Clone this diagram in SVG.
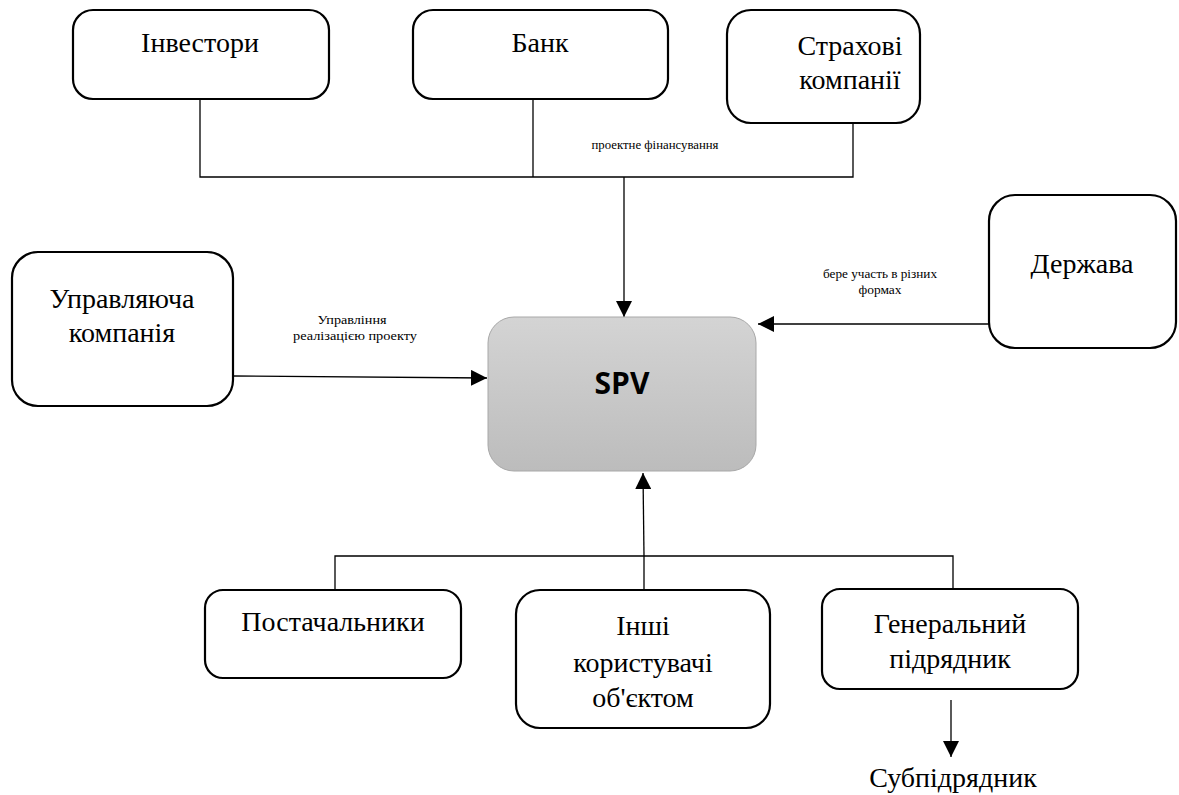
<svg xmlns="http://www.w3.org/2000/svg" width="1179" height="795" viewBox="0 0 1179 795" font-family="Liberation Serif">
<defs>
<linearGradient id="g" x1="0" y1="0" x2="0" y2="1">
<stop offset="0" stop-color="#d4d4d4"/>
<stop offset="1" stop-color="#bcbcbc"/>
</linearGradient>
<marker id="ah" markerUnits="userSpaceOnUse" markerWidth="16" markerHeight="16" viewBox="0 0 16 16" refX="16" refY="8" orient="auto">
<path d="M0,0 L16,8 L0,16 Z" fill="#000"/>
</marker>
</defs>
<style>
.box{fill:#fff;stroke:#000;stroke-width:2.2}
.t{font-size:28px;fill:#000;text-anchor:middle}
.s{font-size:12px;fill:#000;text-anchor:middle}
.c{fill:none;stroke:#000;stroke-width:1.3}
</style>
<g id="connectors">
<polyline class="c" points="200,99 200,177 853,177 853,123"/>
<line class="c" x1="533" y1="99" x2="533" y2="177"/>
<line class="c" x1="624" y1="177" x2="624" y2="317" marker-end="url(#ah)"/>
<line class="c" x1="989" y1="324" x2="758" y2="324" marker-end="url(#ah)"/>
<line class="c" x1="233" y1="376" x2="487" y2="378" marker-end="url(#ah)"/>
<polyline class="c" points="335,589 335,556 953,556 953,588"/>
<line class="c" x1="644" y1="590" x2="644" y2="556"/>
<line class="c" x1="644" y1="556" x2="643" y2="473" marker-end="url(#ah)"/>
<line class="c" x1="951" y1="700" x2="951" y2="757" marker-end="url(#ah)"/>
<text class="s" x="655" y="149" textLength="127" lengthAdjust="spacingAndGlyphs">проектне фінансування</text>
<text class="s" x="880" y="278" textLength="114" lengthAdjust="spacingAndGlyphs">бере участь в різних</text>
<text class="s" x="880" y="294" textLength="43" lengthAdjust="spacingAndGlyphs">формах</text>
<text class="s" x="352" y="324" textLength="69" lengthAdjust="spacingAndGlyphs">Управління</text>
<text class="s" x="355" y="340" textLength="124" lengthAdjust="spacingAndGlyphs">реалізацією проекту</text>
</g>
<g id="investors">
<rect class="box" x="73" y="10" width="256" height="89" rx="20"/>
<text class="t" x="200" y="52">Інвестори</text>
</g>
<g id="bank">
<rect class="box" x="413" y="10" width="255" height="89" rx="20"/>
<text class="t" x="540" y="52">Банк</text>
</g>
<g id="insurance">
<rect class="box" x="727" y="10" width="193" height="113" rx="24"/>
<text class="t" x="850" y="55">Страхові</text>
<text class="t" x="850" y="89">компанії</text>
</g>
<g id="state">
<rect class="box" x="989" y="195" width="187" height="153" rx="26"/>
<text class="t" x="1082" y="273">Держава</text>
</g>
<g id="management">
<rect class="box" x="12" y="252" width="221" height="154" rx="26"/>
<text class="t" x="122" y="308">Управляюча</text>
<text class="t" x="122" y="342">компанія</text>
</g>
<g id="spv">
<rect x="488" y="317" width="268" height="154" rx="26" fill="url(#g)" stroke="#a8a8a8" stroke-width="1"/>
<text x="622" y="394" font-family="Open Sans" font-weight="bold" font-size="30" text-anchor="middle" fill="#000">SPV</text>
</g>
<g id="suppliers">
<rect class="box" x="205" y="590" width="256" height="88" rx="18"/>
<text class="t" x="333" y="631">Постачальники</text>
</g>
<g id="users">
<rect class="box" x="516" y="590" width="254" height="138" rx="24"/>
<text class="t" x="643" y="635">Інші</text>
<text class="t" x="643" y="672">користувачі</text>
<text class="t" x="643" y="707">об'єктом</text>
</g>
<g id="contractor">
<rect class="box" x="822" y="589" width="256" height="100" rx="18"/>
<text class="t" x="950" y="633">Генеральний</text>
<text class="t" x="950" y="668">підрядник</text>
</g>
<g id="subcontractor">
<text class="t" x="953" y="787">Субпідрядник</text>
</g>
</svg>
